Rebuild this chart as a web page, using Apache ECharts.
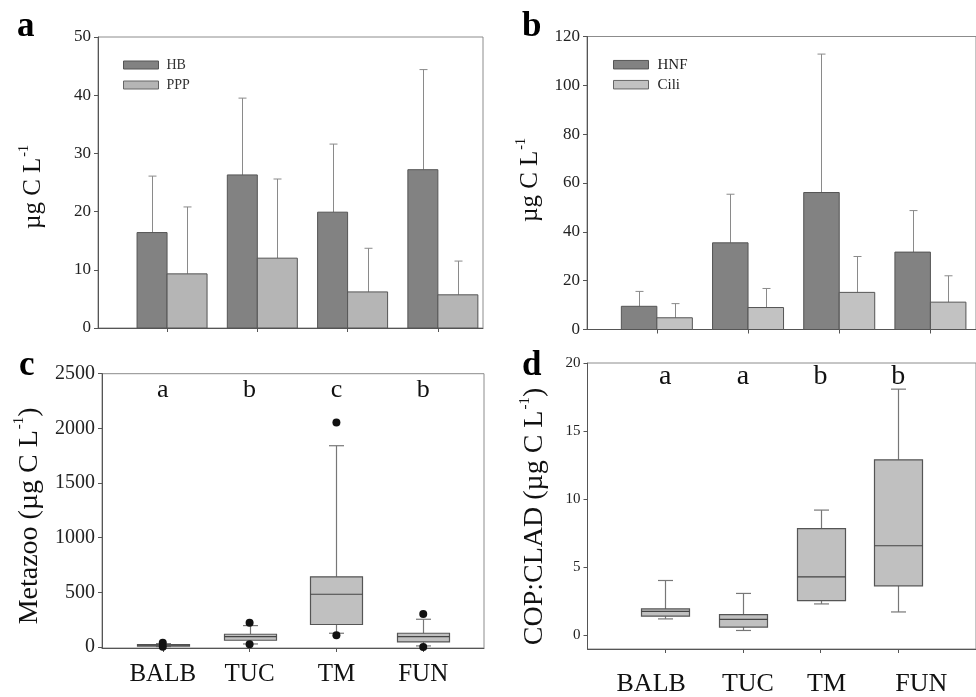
<!DOCTYPE html>
<html>
<head>
<meta charset="utf-8">
<script src="https://cdn.jsdelivr.net/npm/echarts@6/dist/echarts.min.js"></script>
<style>
html,body{margin:0;padding:0;background:#fff;}
#chart{width:976px;height:697px;}
</style>
</head>
<body>
<div id="chart"></div>
<script>
// ---------- data ----------
const sites = ['BALB', 'TUC', 'TM', 'FUN'];
// panel a
const hbMean = [16.4, 26.3, 19.9, 27.2];
const hbErr = [9.7, 13.2, 11.7, 17.2];
const pppMean = [9.3, 12.0, 6.2, 5.7];
const pppErr = [11.5, 13.6, 7.5, 5.8];
// panel b
const hnfMean = [9.5, 35.5, 56.1, 31.7];
const hnfErr = [6.1, 19.9, 56.7, 17.0];
const ciliMean = [4.8, 9.0, 15.2, 11.2];
const ciliErr = [5.8, 7.8, 14.7, 10.8];
// panel c: [low whisker, q1, median, q3, high whisker]
const metazooBox = [
  [3, 8, 15, 22, 30],
  [27, 61, 95, 116, 195],
  [125, 205, 482, 641, 1841],
  [9, 46, 95, 125, 253]
];
const metazooOutliers = [[38, 2], [222, 25], [2054, 107], [302, 0]];
const metazooLetters = ['a', 'b', 'c', 'b'];
// panel d
const copCladBox = [
  [1.21, 1.41, 1.77, 1.94, 4.03],
  [0.36, 0.61, 1.17, 1.53, 3.08],
  [2.31, 2.55, 4.30, 7.84, 9.20],
  [1.72, 3.64, 6.58, 12.89, 18.08]
];
const copCladLetters = ['a', 'a', 'b', 'b'];
// tick labels
const ticksA = [0, 10, 20, 30, 40, 50];
const ticksB = [0, 20, 40, 60, 80, 100, 120];
const ticksC = [0, 500, 1000, 1500, 2000, 2500];
const ticksD = [0, 5, 10, 15, 20];

// ---------- helpers ----------
const SERIF = '"Liberation Serif", "Times New Roman", serif';
const positions = sites.map((s, i) => i + 1);

function barSeries(name, idx, means, errs, side, widthPx, color) {
  return {
    type: 'custom', name: name, xAxisIndex: idx, yAxisIndex: idx,
    itemStyle: { color: color, borderColor: '#555' },
    data: means.map((m, i) => [positions[i], m, m + errs[i]]),
    encode: { x: 0, y: [1, 2] },
    clip: false,
    renderItem: function (params, api) {
      const c = api.value(0), m = api.value(1), t = api.value(2);
      const p0 = api.coord([c, 0]);
      const p1 = api.coord([c, m]);
      const pt = api.coord([c, t]);
      const x0 = side < 0 ? p0[0] - widthPx : p0[0];
      const cx = Math.round(x0 + widthPx / 2) + 0.5;
      return {
        type: 'group', children: [
          { type: 'line', shape: { x1: cx, y1: p1[1], x2: cx, y2: pt[1] }, style: { stroke: '#8a8a8a', lineWidth: 1 } },
          { type: 'line', shape: { x1: cx - 4, y1: pt[1], x2: cx + 4, y2: pt[1] }, style: { stroke: '#8a8a8a', lineWidth: 1 } },
          { type: 'rect', shape: { x: x0, y: p1[1], width: widthPx, height: p0[1] - p1[1] }, style: { fill: color, stroke: '#555', lineWidth: 1 } }
        ]
      };
    }
  };
}

function boxSeries(idx, boxes, widthPx) {
  return {
    type: 'custom', xAxisIndex: idx, yAxisIndex: idx,
    data: boxes.map((b, i) => [positions[i]].concat(b)),
    encode: { x: 0, y: [1, 2, 3, 4, 5] },
    clip: false,
    renderItem: function (params, api) {
      const c = api.value(0);
      const lo = api.coord([c, api.value(1)]);
      const q1 = api.coord([c, api.value(2)]);
      const md = api.coord([c, api.value(3)]);
      const q3 = api.coord([c, api.value(4)]);
      const hi = api.coord([c, api.value(5)]);
      const cx = Math.round(lo[0]) + 0.5;
      const hw = widthPx / 2, cw = 7.5;
      const ws = { stroke: '#777', lineWidth: 1.2 };
      return {
        type: 'group', children: [
          { type: 'line', shape: { x1: cx, y1: q3[1], x2: cx, y2: hi[1] }, style: ws },
          { type: 'line', shape: { x1: cx - cw, y1: hi[1], x2: cx + cw, y2: hi[1] }, style: ws },
          { type: 'line', shape: { x1: cx, y1: q1[1], x2: cx, y2: lo[1] }, style: ws },
          { type: 'line', shape: { x1: cx - cw, y1: lo[1], x2: cx + cw, y2: lo[1] }, style: ws },
          { type: 'rect', shape: { x: cx - hw, y: q3[1], width: widthPx, height: q1[1] - q3[1] }, style: { fill: '#c0c0c0', stroke: '#555', lineWidth: 1.2 } },
          { type: 'line', shape: { x1: cx - hw, y1: md[1], x2: cx + hw, y2: md[1] }, style: { stroke: '#444', lineWidth: 1.2 } }
        ]
      };
    }
  };
}

function letterSeries(idx, letters, yVal, fontSize) {
  return {
    type: 'custom', xAxisIndex: idx, yAxisIndex: idx, silent: true, clip: false,
    data: letters.map((l, i) => [positions[i], yVal]),
    encode: { x: 0, y: 1 },
    renderItem: function (params, api) {
      const p = api.coord([api.value(0), api.value(1)]);
      return {
        type: 'text', x: p[0], y: p[1],
        style: { text: letters[params.dataIndex], font: fontSize + 'px ' + SERIF, fill: '#111', align: 'center', verticalAlign: 'middle' }
      };
    }
  };
}

function yAxis(idx, min, max, ticks, fontSize, name, nameSize, nameGap, namePad) {
  return {
    type: 'value', gridIndex: idx, min: min, max: max,
    splitLine: { show: false },
    axisLine: { show: true, lineStyle: { color: '#555', width: 1 } },
    axisTick: { show: true, length: 4, inside: false, customValues: ticks, lineStyle: { color: '#555' } },
    axisLabel: { customValues: ticks, formatter: function (v) { return String(v); }, fontFamily: SERIF, fontSize: fontSize, color: '#222', margin: 7 },
    name: name, nameLocation: 'middle', nameRotate: 90, nameGap: nameGap,
    nameTextStyle: {
      fontFamily: SERIF, fontSize: nameSize, color: '#111', padding: namePad,
      rich: {
        n: { fontFamily: SERIF, fontSize: nameSize, color: '#111' },
        s: { fontFamily: SERIF, fontSize: Math.round(nameSize * 0.55), color: '#111', padding: [0, 0, Math.round(nameSize * 0.7), 1] }
      }
    }
  };
}

function xAxis(idx, min, max, showLabels, fontSize, richPad) {
  const rich = {};
  sites.forEach((s, i) => {
    rich['l' + i] = { fontFamily: SERIF, fontSize: fontSize, color: '#111', padding: richPad ? richPad[i] : 0 };
  });
  return {
    type: 'value', gridIndex: idx, min: min, max: max,
    splitLine: { show: false },
    axisLine: { show: true, onZero: false, lineStyle: { color: '#555', width: 1 } },
    axisTick: { show: true, length: 4, customValues: positions, lineStyle: { color: '#555' } },
    axisLabel: {
      show: showLabels, customValues: positions, margin: showLabels ? (richPad ? 22 : 14) : 8,
      formatter: function (v) { const i = Math.round(v) - 1; return '{l' + i + '|' + sites[i] + '}'; },
      rich: rich, fontFamily: SERIF, fontSize: fontSize, color: '#111'
    }
  };
}

const option = {
  backgroundColor: '#fff',
  animation: false,
  grid: [
    { left: 98, top: 37, width: 385, height: 291, show: true, borderColor: '#8c8c8c', borderWidth: 1 },
    { left: 587, top: 36.5, width: 397, height: 293, show: true, borderColor: '#8c8c8c', borderWidth: 1 },
    { left: 102, top: 373.7, width: 382, height: 274.3, show: true, borderColor: '#8c8c8c', borderWidth: 1 },
    { left: 587.5, top: 363, width: 400, height: 288.3, show: true, borderColor: '#8c8c8c', borderWidth: 1 }
  ],
  xAxis: [
    xAxis(0, 0.235, 4.5, false, 16),
    xAxis(1, 0.234, 4.5, false, 16),
    xAxis(2, 0.3, 4.7, true, 25),
    xAxis(3, 0, 5, true, 26, [[0, 28, 0, 0], [0, 0, 0, 10], [0, 0, 0, 12], [0, 0, 0, 46]])
  ],
  yAxis: [
    yAxis(0, 0, 50, ticksA, 17, '{n|µg C L}{s|-1}', 25, 49, [0, 9, 0, 0]),
    yAxis(1, 0, 120, ticksB, 17, '{n|µg C L}{s|-1}', 25, 41, [0, 0, 0, 6]),
    yAxis(2, -10, 2500, ticksC, 20, '{n|Metazoo (µg C L}{s|-1}{n|)}', 28, 55, [0, 10, 0, 0]),
    yAxis(3, -1, 20, ticksD, 15, '{n|COP:CLAD (µg C L}{s|-1}{n|)}', 28, 35, [0, 21, 0, 0])
  ],
  legend: [
    {
      orient: 'vertical', left: 118, top: 52.5, itemWidth: 35, itemHeight: 8, itemGap: 5,
      icon: 'rect', selectedMode: false,
      textStyle: { fontFamily: SERIF, fontSize: 14, color: '#333', lineHeight: 15, padding: [0, 0, 0, 3] },
      data: [
        { name: 'HB', itemStyle: { color: '#828282', borderColor: '#555', borderWidth: 1 } },
        { name: 'PPP', itemStyle: { color: '#b5b5b5', borderColor: '#666', borderWidth: 1 } }
      ]
    },
    {
      orient: 'vertical', left: 608, top: 51.7, itemWidth: 35, itemHeight: 8.5, itemGap: 4,
      icon: 'rect', selectedMode: false,
      textStyle: { fontFamily: SERIF, fontSize: 15, color: '#222', lineHeight: 16, padding: [0, 0, 0, 4] },
      data: [
        { name: 'HNF', itemStyle: { color: '#828282', borderColor: '#555', borderWidth: 1 } },
        { name: 'Cili', itemStyle: { color: '#c2c2c2', borderColor: '#666', borderWidth: 1 } }
      ]
    }
  ],
  graphic: [
    { type: 'text', left: 17, top: 9, style: { text: 'a', font: 'bold 35px ' + SERIF, fill: '#000' } },
    { type: 'text', left: 522, top: 9, style: { text: 'b', font: 'bold 35px ' + SERIF, fill: '#000' } },
    { type: 'text', left: 19, top: 348, style: { text: 'c', font: 'bold 35px ' + SERIF, fill: '#000' } },
    { type: 'text', left: 522, top: 348, style: { text: 'd', font: 'bold 35px ' + SERIF, fill: '#000' } }
  ],
  series: [
    barSeries('HB', 0, hbMean, hbErr, -1, 30, '#828282'),
    barSeries('PPP', 0, pppMean, pppErr, 1, 40, '#b5b5b5'),
    barSeries('HNF', 1, hnfMean, hnfErr, -1, 35.5, '#828282'),
    barSeries('Cili', 1, ciliMean, ciliErr, 1, 35.5, '#c2c2c2'),
    boxSeries(2, metazooBox, 52),
    {
      type: 'scatter', xAxisIndex: 2, yAxisIndex: 2, symbol: 'circle', symbolSize: 8,
      itemStyle: { color: '#111', opacity: 1 }, clip: false,
      data: metazooOutliers.flatMap((o, i) => o.map(v => [positions[i], v]))
    },
    letterSeries(2, metazooLetters, 2350, 26),
    boxSeries(3, copCladBox, 48),
    letterSeries(3, copCladLetters, 19, 28)
  ]
};

const chart = echarts.init(document.getElementById('chart'), null, { renderer: 'canvas' });
chart.setOption(option);
</script>
</body>
</html>
